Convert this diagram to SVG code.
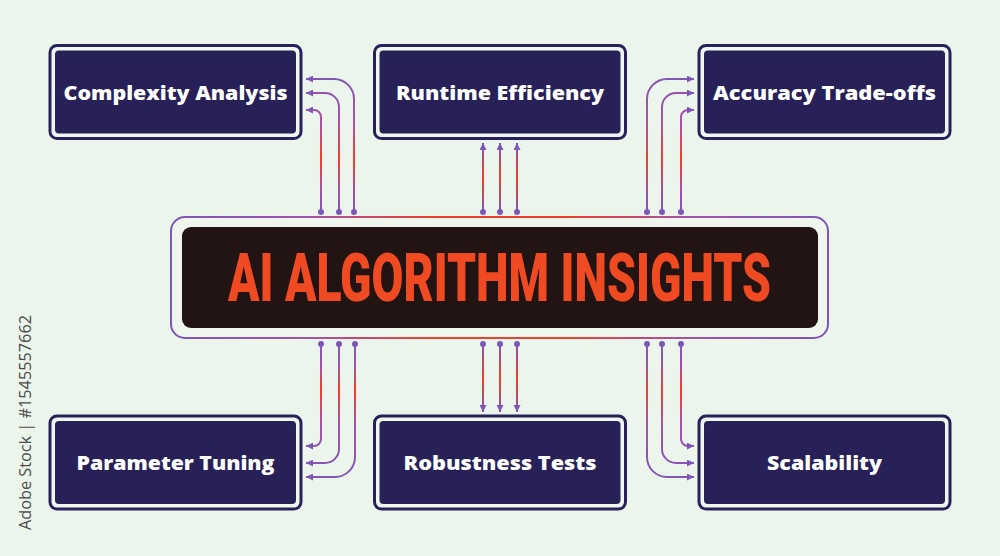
<svg xmlns="http://www.w3.org/2000/svg" width="1000" height="556" viewBox="0 0 1000 556">
  <style>
    .frame { fill: #eef6ee; stroke: #28215c; stroke-width: 3; }
    .inner { fill: #272158; }
    .label { font-family: "Open Sans", "Liberation Sans", sans-serif; font-weight: 800; font-size: 20px; fill: #ffffff; text-anchor: middle; }
    .title { font-family: Roboto, "Liberation Sans", sans-serif; font-weight: 900; font-size: 67px; fill: #f04a23; text-anchor: middle; }
    .wm { font-family: "Open Sans", "Liberation Sans", sans-serif; font-size: 17px; fill: #4b4b4b; }
    .c { fill: none; stroke-width: 2; marker-start: url(#dot); marker-end: url(#arrow); }
  </style>
  <defs>
    <marker id="arrow" viewBox="0 0 10 10" refX="10" refY="5" markerUnits="userSpaceOnUse" markerWidth="7" markerHeight="7" orient="auto">
      <path d="M0,0 L10,5 L0,10 z" fill="#7e56b6"/>
    </marker>
    <marker id="dot" viewBox="0 0 10 10" refX="5" refY="5" markerUnits="userSpaceOnUse" markerWidth="6" markerHeight="6" orient="auto">
      <circle cx="5" cy="5" r="5" fill="#7e56b6"/>
    </marker>
    <linearGradient id="gTop" gradientUnits="userSpaceOnUse" x1="0" y1="75" x2="0" y2="214">
      <stop offset="0" stop-color="#7e56b6"/>
      <stop offset="0.35" stop-color="#b050a8"/>
      <stop offset="0.6" stop-color="#f0402a"/>
      <stop offset="0.85" stop-color="#9a52b0"/>
      <stop offset="1" stop-color="#7e56b6"/>
    </linearGradient>
    <linearGradient id="gTopMid" gradientUnits="userSpaceOnUse" x1="0" y1="142" x2="0" y2="213">
      <stop offset="0" stop-color="#7e56b6"/>
      <stop offset="0.5" stop-color="#f0402a"/>
      <stop offset="1" stop-color="#7e56b6"/>
    </linearGradient>
    <linearGradient id="gBot" gradientUnits="userSpaceOnUse" x1="0" y1="342" x2="0" y2="480">
      <stop offset="0" stop-color="#7e56b6"/>
      <stop offset="0.15" stop-color="#9a52b0"/>
      <stop offset="0.35" stop-color="#f0402a"/>
      <stop offset="0.6" stop-color="#a452ae"/>
      <stop offset="1" stop-color="#7e56b6"/>
    </linearGradient>
    <linearGradient id="gBotMid" gradientUnits="userSpaceOnUse" x1="0" y1="343" x2="0" y2="413">
      <stop offset="0" stop-color="#7e56b6"/>
      <stop offset="0.5" stop-color="#f0402a"/>
      <stop offset="1" stop-color="#7e56b6"/>
    </linearGradient>
    <linearGradient id="gCenter" gradientUnits="userSpaceOnUse" x1="171" y1="0" x2="829" y2="0">
      <stop offset="0" stop-color="#7e56b6"/>
      <stop offset="0.2" stop-color="#a052ae"/>
      <stop offset="0.4" stop-color="#f0402a"/>
      <stop offset="0.6" stop-color="#f0402a"/>
      <stop offset="0.8" stop-color="#a052ae"/>
      <stop offset="1" stop-color="#7e56b6"/>
    </linearGradient>
  </defs>

  <rect x="0" y="0" width="1000" height="556" fill="#ecf5eb"/>

  <g id="connectors">
    <!-- top-left -->
    <path class="c" stroke="url(#gTop)" d="M354,212 V99 A20,20 0 0 0 334,79 H306"/>
    <path class="c" stroke="url(#gTop)" d="M339,212 V107 A14,14 0 0 0 325,93 H306"/>
    <path class="c" stroke="url(#gTop)" d="M321,212 V117 A7,7 0 0 0 314,110 H306"/>
    <!-- top-middle -->
    <path class="c" stroke="url(#gTopMid)" d="M483,212 V143"/>
    <path class="c" stroke="url(#gTopMid)" d="M500,212 V143"/>
    <path class="c" stroke="url(#gTopMid)" d="M517,212 V143"/>
    <!-- top-right -->
    <path class="c" stroke="url(#gTop)" d="M647,212 V99 A20,20 0 0 1 667,79 H694"/>
    <path class="c" stroke="url(#gTop)" d="M662,212 V107 A14,14 0 0 1 676,93 H694"/>
    <path class="c" stroke="url(#gTop)" d="M681,212 V117 A7,7 0 0 1 688,110 H694"/>
    <!-- bottom-left -->
    <path class="c" stroke="url(#gBot)" d="M321,344 V439 A7,7 0 0 1 314,446 H306"/>
    <path class="c" stroke="url(#gBot)" d="M339,344 V449 A14,14 0 0 1 325,463 H306"/>
    <path class="c" stroke="url(#gBot)" d="M355,344 V457 A20,20 0 0 1 335,477 H306"/>
    <!-- bottom-middle -->
    <path class="c" stroke="url(#gBotMid)" d="M483,344 V412"/>
    <path class="c" stroke="url(#gBotMid)" d="M500,344 V412"/>
    <path class="c" stroke="url(#gBotMid)" d="M517,344 V412"/>
    <!-- bottom-right -->
    <path class="c" stroke="url(#gBot)" d="M681,344 V439 A7,7 0 0 0 688,446 H694"/>
    <path class="c" stroke="url(#gBot)" d="M662,344 V449 A14,14 0 0 0 676,463 H694"/>
    <path class="c" stroke="url(#gBot)" d="M647,344 V457 A20,20 0 0 0 667,477 H694"/>
  </g>

  <g id="center">
    <rect x="171" y="217" width="657" height="121" rx="14" fill="#eef6ee" stroke="url(#gCenter)" stroke-width="2"/>
    <rect x="182" y="227" width="636" height="101" rx="9" fill="#231414"/>
    <text class="title" transform="translate(499.5,301) scale(0.72,1)" x="0" y="0" textLength="754" lengthAdjust="spacingAndGlyphs">AI ALGORITHM INSIGHTS</text>
  </g>

  <g id="node-complexity">
    <rect class="frame" x="50" y="45.5" width="251" height="93" rx="7"/>
    <rect class="inner" x="55" y="50.5" width="241" height="83" rx="4"/>
    <text class="label" x="175.5" y="100" textLength="224" lengthAdjust="spacingAndGlyphs">Complexity Analysis</text>
  </g>
  <g id="node-runtime">
    <rect class="frame" x="374.5" y="45.5" width="251" height="93" rx="7"/>
    <rect class="inner" x="379.5" y="50.5" width="241" height="83" rx="4"/>
    <text class="label" x="500" y="100" textLength="208" lengthAdjust="spacingAndGlyphs">Runtime Efficiency</text>
  </g>
  <g id="node-accuracy">
    <rect class="frame" x="699" y="45.5" width="251" height="93" rx="7"/>
    <rect class="inner" x="704" y="50.5" width="241" height="83" rx="4"/>
    <text class="label" x="824.5" y="100" textLength="223" lengthAdjust="spacingAndGlyphs">Accuracy Trade-offs</text>
  </g>
  <g id="node-parameter">
    <rect class="frame" x="50" y="416" width="251" height="93" rx="7"/>
    <rect class="inner" x="55" y="421" width="241" height="83" rx="4"/>
    <text class="label" x="175.5" y="470" textLength="198" lengthAdjust="spacingAndGlyphs">Parameter Tuning</text>
  </g>
  <g id="node-robustness">
    <rect class="frame" x="374.5" y="416" width="251" height="93" rx="7"/>
    <rect class="inner" x="379.5" y="421" width="241" height="83" rx="4"/>
    <text class="label" x="500" y="470" textLength="193" lengthAdjust="spacingAndGlyphs">Robustness Tests</text>
  </g>
  <g id="node-scalability">
    <rect class="frame" x="699" y="416" width="251" height="93" rx="7"/>
    <rect class="inner" x="704" y="421" width="241" height="83" rx="4"/>
    <text class="label" x="824.5" y="470" textLength="115" lengthAdjust="spacingAndGlyphs">Scalability</text>
  </g>

  <text class="wm" transform="translate(31,530) rotate(-90)" textLength="215" lengthAdjust="spacingAndGlyphs">Adobe Stock | #1545557662</text>
</svg>
